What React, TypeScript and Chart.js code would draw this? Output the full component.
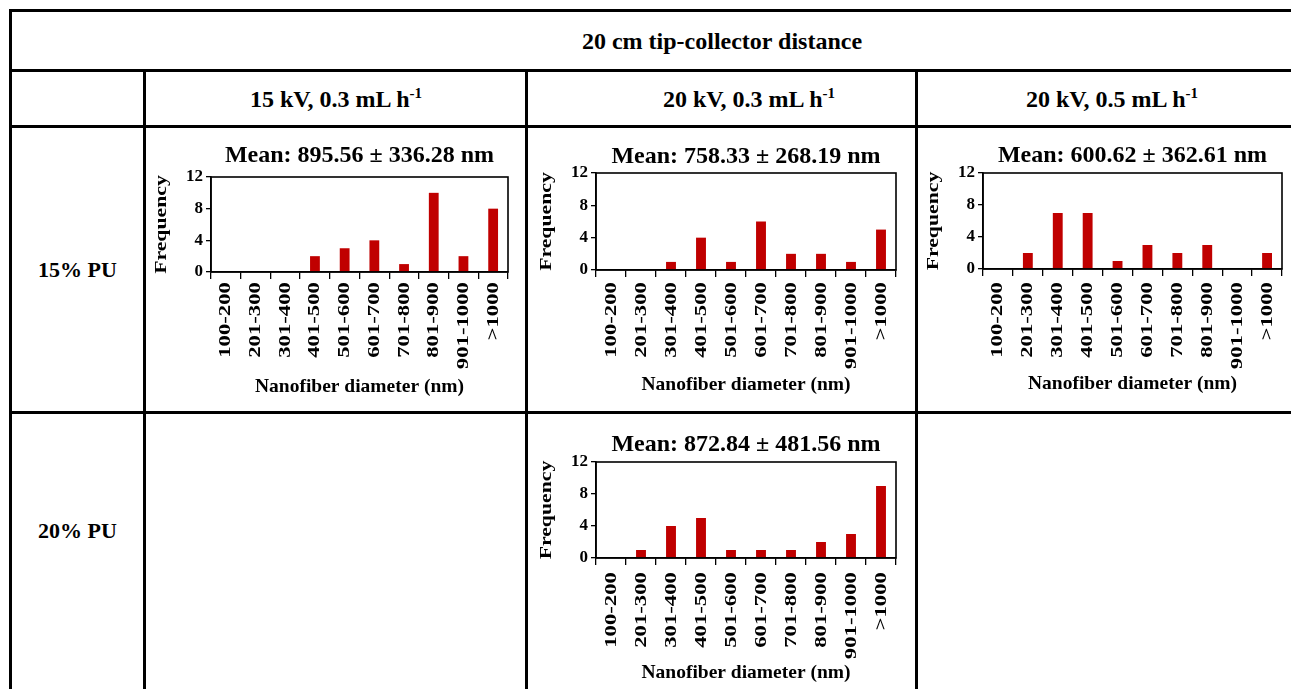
import React, { useEffect, useRef } from "react";
import { Chart, registerables } from "chart.js";

Chart.register(...registerables);

const SERIF = "'Liberation Serif', 'Times New Roman', Times, serif";

// ---------- data ----------
const categories = ["100-200", "201-300", "301-400", "401-500", "501-600", "601-700", "701-800", "801-900", "901-1000", ">1000"];
const pu15_15kV_03 = [0, 0, 0, 2, 3, 4, 1, 10, 2, 8];
const pu15_20kV_03 = [0, 0, 1, 4, 1, 6, 2, 2, 1, 5];
const pu15_20kV_05 = [0, 2, 7, 7, 1, 3, 2, 3, 0, 2];
const pu20_20kV_03 = [0, 1, 4, 5, 1, 1, 1, 2, 3, 9];
const meanTitles = [
  "Mean: 895.56 ± 336.28 nm",
  "Mean: 758.33 ± 268.19 nm",
  "Mean: 600.62 ± 362.61 nm",
  "Mean: 872.84 ± 481.56 nm",
];
const yMax = 12;
const yStep = 4;
const yTitle = "Frequency";
const xTitle = "Nanofiber diameter (nm)";
const tableTitle = "20 cm tip-collector distance";
const columnHeaders = ["15 kV, 0.3 mL h", "20 kV, 0.3 mL h", "20 kV, 0.5 mL h"];
const columnHeaderSup = "-1";
const rowHeaders = ["15% PU", "20% PU"];

// ---------- layout ----------
type Rect = { x: number; y: number; w: number; h: number };
type Plot = { l: number; t: number; r: number; b: number };

const panels: { values: number[]; title: string; cell: Rect; plot: Plot; titleBase: number; labelGap: number }[] = [
  { values: pu15_15kV_03, title: meanTitles[0], cell: { x: 146, y: 128, w: 379, h: 283 }, plot: { l: 211, t: 177, r: 508, b: 272 }, titleBase: 162, labelGap: 10 },
  { values: pu15_20kV_03, title: meanTitles[1], cell: { x: 528, y: 128, w: 387, h: 283 }, plot: { l: 596, t: 173, r: 896, b: 270 }, titleBase: 163, labelGap: 12 },
  { values: pu15_20kV_05, title: meanTitles[2], cell: { x: 918, y: 128, w: 373, h: 283 }, plot: { l: 983, t: 173, r: 1282, b: 269 }, titleBase: 162, labelGap: 13 },
  { values: pu20_20kV_03, title: meanTitles[3], cell: { x: 528, y: 414, w: 387, h: 275 }, plot: { l: 596, t: 462, r: 896, b: 558 }, titleBase: 451, labelGap: 14 },
];

const Y_AXIS_W = 40;
const X_AXIS_H = 8;
const LABEL_STRETCH = 1.3;
const YTITLE_STRETCH = 1.28;

function Histogram(props: { values: number[]; title: string; cell: Rect; plot: Plot; titleBase: number; labelGap: number }) {
  const ref = useRef<HTMLCanvasElement | null>(null);
  useEffect(() => {
    const canvas = ref.current;
    if (!canvas) return;
    const { cell, plot } = props;
    const drawer = {
      id: "drawer",
      afterDraw(chart: any) {
        const ctx = chart.ctx as CanvasRenderingContext2D;
        const a = chart.chartArea;
        const xs = chart.scales.x;
        ctx.save();
        // plot frame
        ctx.strokeStyle = "#000";
        ctx.lineWidth = 1.6;
        ctx.strokeRect(a.left, a.top, a.right - a.left, a.bottom - a.top);
        ctx.fillStyle = "#000";
        // title
        ctx.font = `bold 24px ${SERIF}`;
        ctx.textAlign = "center";
        ctx.textBaseline = "alphabetic";
        ctx.fillText(props.title, (a.left + a.right) / 2, props.titleBase - cell.y);
        // x title
        ctx.font = `bold 19.5px ${SERIF}`;
        ctx.fillText(xTitle, (a.left + a.right) / 2, a.bottom + 120);
        // category labels (rotated)
        ctx.font = `bold 17.5px ${SERIF}`;
        ctx.textAlign = "right";
        ctx.textBaseline = "middle";
        categories.forEach((c, i) => {
          const x = xs.getPixelForValue(i);
          ctx.save();
          ctx.translate(x, a.bottom + props.labelGap);
          ctx.rotate(-Math.PI / 2);
          ctx.scale(LABEL_STRETCH, 1);
          ctx.fillText(c, 0, 0);
          ctx.restore();
        });
        // y title
        ctx.font = `bold 17px ${SERIF}`;
        ctx.textAlign = "center";
        ctx.save();
        ctx.translate(a.left - 49, (a.top + a.bottom) / 2);
        ctx.rotate(-Math.PI / 2);
        ctx.scale(YTITLE_STRETCH, 1);
        ctx.fillText(yTitle, 0, 0);
        ctx.restore();
        ctx.restore();
      },
    };
    const chart = new Chart(canvas, {
      type: "bar",
      data: {
        labels: categories,
        datasets: [
          {
            data: props.values,
            backgroundColor: "#C00000",
            borderWidth: 0,
            barPercentage: 0.33,
            categoryPercentage: 1,
          },
        ],
      },
      options: {
        animation: false,
        responsive: false,
        devicePixelRatio: 1,
        layout: {
          padding: {
            left: plot.l - cell.x - Y_AXIS_W,
            top: plot.t - cell.y,
            right: cell.x + cell.w - plot.r,
            bottom: cell.y + cell.h - plot.b - X_AXIS_H,
          },
        },
        plugins: { legend: { display: false }, title: { display: false }, tooltip: { enabled: false } },
        scales: {
          x: {
            grid: { display: true, drawOnChartArea: false, drawTicks: true, tickLength: 7, color: "#000", lineWidth: 1.3, offset: true },
            border: { display: true, color: "#000", width: 1.6 },
            ticks: { display: false },
            afterFit: (s: any) => {
              s.height = X_AXIS_H;
            },
          },
          y: {
            min: 0,
            max: yMax,
            grid: { display: true, drawOnChartArea: false, drawTicks: true, tickLength: 5, color: "#000", lineWidth: 1.3 },
            border: { display: true, color: "#000", width: 1.6 },
            ticks: { stepSize: yStep, color: "#000", padding: 3, font: { family: SERIF, size: 17, weight: "bold" } },
            afterFit: (s: any) => {
              s.width = Y_AXIS_W;
            },
          },
        },
      },
      plugins: [drawer],
    } as any);
    return () => chart.destroy();
  }, []);
  const { cell } = props;
  return (
    <canvas
      ref={ref}
      width={cell.w}
      height={cell.h}
      style={{ position: "absolute", left: cell.x, top: cell.y, width: cell.w, height: cell.h }}
    />
  );
}

const line = (x: number, y: number, w: number, h: number, key: string) => (
  <div key={key} style={{ position: "absolute", left: x, top: y, width: w, height: h, background: "#000" }} />
);

const textStyle = (x: number, y: number, w: number, h: number, size: number): React.CSSProperties => ({
  position: "absolute",
  left: x,
  top: y,
  width: w,
  height: h,
  display: "flex",
  alignItems: "center",
  justifyContent: "center",
  fontFamily: SERIF,
  fontWeight: "bold",
  fontSize: size,
  color: "#000",
  whiteSpace: "nowrap",
});

export default function App() {
  const headerCenters = [336, 749, 1112];
  return (
    <div style={{ position: "absolute", left: 0, top: 0, width: 1291, height: 689, overflow: "hidden", background: "#fff" }}>
      {line(9, 9, 1300, 3, "top")}
      {line(9, 9, 3, 700, "left")}
      {line(9, 69, 1300, 3, "h1")}
      {line(9, 125, 1300, 3, "h2")}
      {line(9, 411, 1300, 3, "h3")}
      {line(143, 69, 3, 640, "v1")}
      {line(525, 69, 3, 640, "v2")}
      {line(915, 69, 3, 640, "v3")}
      <div style={textStyle(12, 13, 1420, 57, 24)}>{tableTitle}</div>
      {columnHeaders.map((h, i) => (
        <div key={h} style={textStyle(headerCenters[i] - 150, 73, 300, 53, 24)}>
          <span>
            {h}
            <sup style={{ fontSize: 15, verticalAlign: "0.6em", lineHeight: 0 }}>{columnHeaderSup}</sup>
          </span>
        </div>
      ))}
      <div style={textStyle(12, 128, 131, 283, 22)}>{rowHeaders[0]}</div>
      <div style={textStyle(12, 414, 131, 234, 22)}>{rowHeaders[1]}</div>
      {panels.map((p, i) => (
        <Histogram key={i} {...p} />
      ))}
    </div>
  );
}
